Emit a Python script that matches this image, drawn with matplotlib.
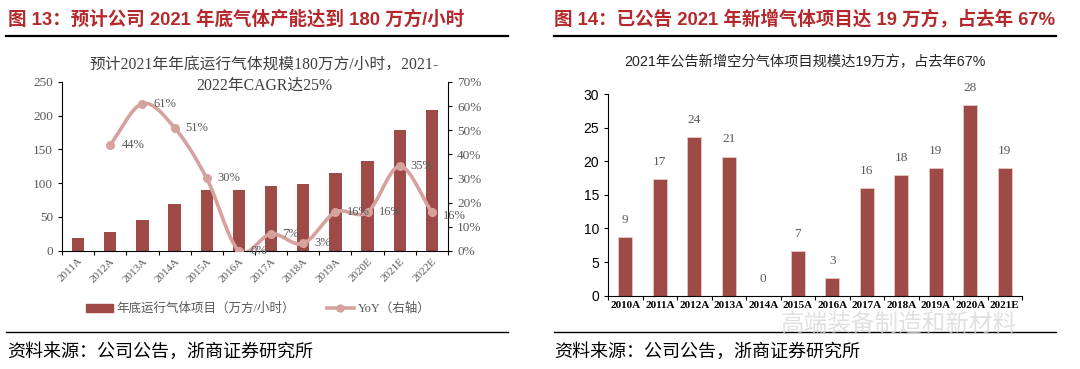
import numpy as np
import matplotlib
matplotlib.use("Agg")
import matplotlib.pyplot as plt
from matplotlib.lines import Line2D
from matplotlib.patches import Patch

# ---------------- data ----------------
years_l = ["2011A", "2012A", "2013A", "2014A", "2015A", "2016A", "2017A",
           "2018A", "2019A", "2020E", "2021E", "2022E"]
capacity = [19, 28, 45.5, 69, 89.5, 89.5, 96, 99, 115, 133, 179, 208]
yoy = [None, 44, 61, 51, 30, 0, 7, 3, 16, 16, 35, 16]

years_r = ["2010A", "2011A", "2012A", "2013A", "2014A", "2015A", "2016A",
           "2017A", "2018A", "2019A", "2020A", "2021E"]
new_proj = [8.7, 17.4, 23.6, 20.7, 0, 6.6, 2.6, 16.0, 17.9, 19.05, 28.4, 19.05]

# ---------------- style ----------------
W, H = 1080, 369
RED_T = "#B5282B"
BAR = "#9E4B48"
LINE = "#D6A29D"
GREY = "#595959"
SERIF = ["Liberation Serif", "Noto Sans CJK SC"]
SANS = ["Liberation Sans", "Noto Sans CJK SC"]
CJK = ["Noto Sans CJK SC", "DejaVu Sans"]

fig = plt.figure(figsize=(W / 100, H / 100), dpi=100)


def px(x0, y_top, w, h):
    return [x0 / W, (H - y_top - h) / H, w / W, h / H]


def catmull(xs, ys, n=20):
    xs = np.asarray(xs, float)
    ys = np.asarray(ys, float)
    P = np.column_stack([xs, ys])
    P = np.vstack([2 * P[0] - P[1], P, 2 * P[-1] - P[-2]])
    out = []
    for i in range(1, len(P) - 2):
        p0, p1, p2, p3 = P[i - 1], P[i], P[i + 1], P[i + 2]
        t = np.linspace(0, 1, n, endpoint=False)[:, None]
        seg = 0.5 * ((2 * p1) + (-p0 + p2) * t + (2 * p0 - 5 * p1 + 4 * p2 - p3) * t ** 2
                     + (-p0 + 3 * p1 - 3 * p2 + p3) * t ** 3)
        out.append(seg)
    out.append(P[-2][None, :])
    out = np.vstack(out)
    return out[:, 0], out[:, 1]


# ---------------- headers ----------------
fig.text(8 / W, 1 - 19 / H, "图 13：预计公司 2021 年底气体产能达到 180 万方/小时",
         color=RED_T, fontsize=13.3, fontweight="bold", family=SANS, va="center", ha="left")
fig.text(554 / W, 1 - 19 / H, "图 14：已公告 2021 年新增气体项目达 19 万方，占去年 67%",
         color=RED_T, fontsize=13.3, fontweight="bold", family=SANS, va="center", ha="left")
for x0, x1 in [(6, 508), (554, 1056)]:
    fig.add_artist(Line2D([x0 / W, x1 / W], [1 - 36 / H] * 2, color="black", lw=1.6))
    fig.add_artist(Line2D([x0 / W, x1 / W], [1 - 332 / H] * 2, color="black", lw=1.0))
fig.text(7 / W, 1 - 352 / H, "资料来源：公司公告，浙商证券研究所", fontsize=13,
         family=CJK, va="center", ha="left", color="black")
fig.text(554 / W, 1 - 352 / H, "资料来源：公司公告，浙商证券研究所", fontsize=13,
         family=CJK, va="center", ha="left", color="black")

# ---------------- left chart ----------------
ax = fig.add_axes(px(62, 82, 386, 168.7))
xl = np.arange(len(years_l))
ax.bar(xl, capacity, width=0.38, color=BAR, zorder=2)
ax.set_xlim(-0.5, len(years_l) - 0.5)
ax.set_ylim(0, 250)
ax.set_yticks(np.arange(0, 251, 50))
ax.set_xticks(np.arange(-0.5, len(years_l), 1.0), minor=False)
ax.set_xticklabels([])
ax.set_xticks(xl, minor=True)
ax.set_xticklabels(years_l, minor=True, rotation=45, ha="right", va="top",
                   rotation_mode="anchor", fontsize=8, family=SERIF, color=GREY)
ax.tick_params(axis="x", which="minor", length=0, pad=4)
ax.tick_params(axis="x", which="major", length=3, direction="out", color="black")
ax.tick_params(axis="y", length=3, direction="out", labelsize=9.5, labelcolor=GREY)
for t in ax.get_yticklabels():
    t.set_family(SERIF)
for s in ["top", "right"]:
    ax.spines[s].set_visible(False)
ax.spines["left"].set_color("black")
ax.spines["bottom"].set_color("black")

ax2 = ax.twinx()
ax2.set_ylim(0, 0.70)
ax2.set_yticks(np.arange(0, 0.71, 0.10))
ax2.set_yticklabels([f"{int(round(v * 100))}%" for v in np.arange(0, 0.71, 0.10)],
                    family=SERIF, fontsize=9.5, color=GREY)
ax2.tick_params(axis="y", length=3, direction="out")
for s in ["top", "left", "bottom"]:
    ax2.spines[s].set_visible(False)
ax2.spines["right"].set_color("black")
yx = [i for i, v in enumerate(yoy) if v is not None]
yv = [yoy[i] / 100 for i in yx]
sx, sy = catmull(yx, yv)
ax2.plot(sx, sy, color=LINE, lw=2.6, zorder=3, solid_capstyle="round")
ax2.plot(yx, yv, "o", color=LINE, ms=5.5, zorder=4)
for x, v in zip(yx, yv):
    dy = -3 if x == len(years_l) - 1 else 0
    ax2.annotate(f"{v * 100:.0f}%", (x, v), xytext=(8, dy), textcoords="offset points",
                 va="center", ha="left", fontsize=9, family=SERIF, color=GREY, zorder=5)

fig.text(264 / W, 1 - 65 / H, "预计2021年年底运行气体规模180万方/小时，2021-",
         family=SERIF, fontsize=11.3, color="#404040", ha="center", va="center")
fig.text(264 / W, 1 - 86 / H, "2022年CAGR达25%",
         family=SERIF, fontsize=11.3, color="#404040", ha="center", va="center")

handles = [Patch(color=BAR), Line2D([], [], color=LINE, lw=2.6, marker="o", ms=5)]
labels = ["年底运行气体项目（万方/小时）", "YoY（右轴）"]
fig.legend(handles, labels, loc="center", bbox_to_anchor=(258 / W, 1 - 309 / H),
           ncol=2, frameon=False, prop={"family": SERIF, "size": 9},
           labelcolor=GREY, handlelength=2.2, handleheight=0.6, columnspacing=2.5,
           handletextpad=0.3)

# ---------------- right chart ----------------
bx = fig.add_axes(px(608, 94, 414, 201.7))
xr = np.arange(len(years_r))
bx.bar(xr, new_proj, width=0.4, color=BAR, edgecolor="#E8C8C6", linewidth=0.6, zorder=2)
bx.set_xlim(-0.5, len(years_r) - 0.5)
bx.set_ylim(0, 30)
bx.set_yticks(np.arange(0, 31, 5))
bx.set_xticks(np.arange(-0.5, len(years_r), 1.0))
bx.set_xticklabels([])
bx.set_xticks(xr, minor=True)
bx.set_xticklabels(years_r, minor=True, fontsize=8, family=SERIF, color="black",
                   fontweight="bold")
bx.tick_params(axis="x", which="minor", length=0, pad=4)
bx.tick_params(axis="x", which="major", length=3, direction="out")
bx.tick_params(axis="y", length=3, direction="out", labelsize=10)
for t in bx.get_yticklabels():
    t.set_family(SANS)
for s in ["top", "right"]:
    bx.spines[s].set_visible(False)
for x, v in zip(xr, new_proj):
    bx.annotate(f"{v:.0f}", (x, v), xytext=(0, 8), textcoords="offset points",
                ha="center", va="bottom", fontsize=9.5, family=SERIF, color=GREY)

fig.text(805 / W, 1 - 62 / H, "2021年公告新增空分气体项目规模达19万方，占去年67%",
         family=SANS, fontsize=10.3, color="#262626", ha="center", va="center")

# watermark
fig.text(899 / W, 1 - 324 / H, "高端装备制造和新材料", family=CJK, fontsize=17,
         color="#D9D9D9", alpha=0.8, ha="center", va="center", zorder=10)

fig.savefig("out.png", dpi=100)
